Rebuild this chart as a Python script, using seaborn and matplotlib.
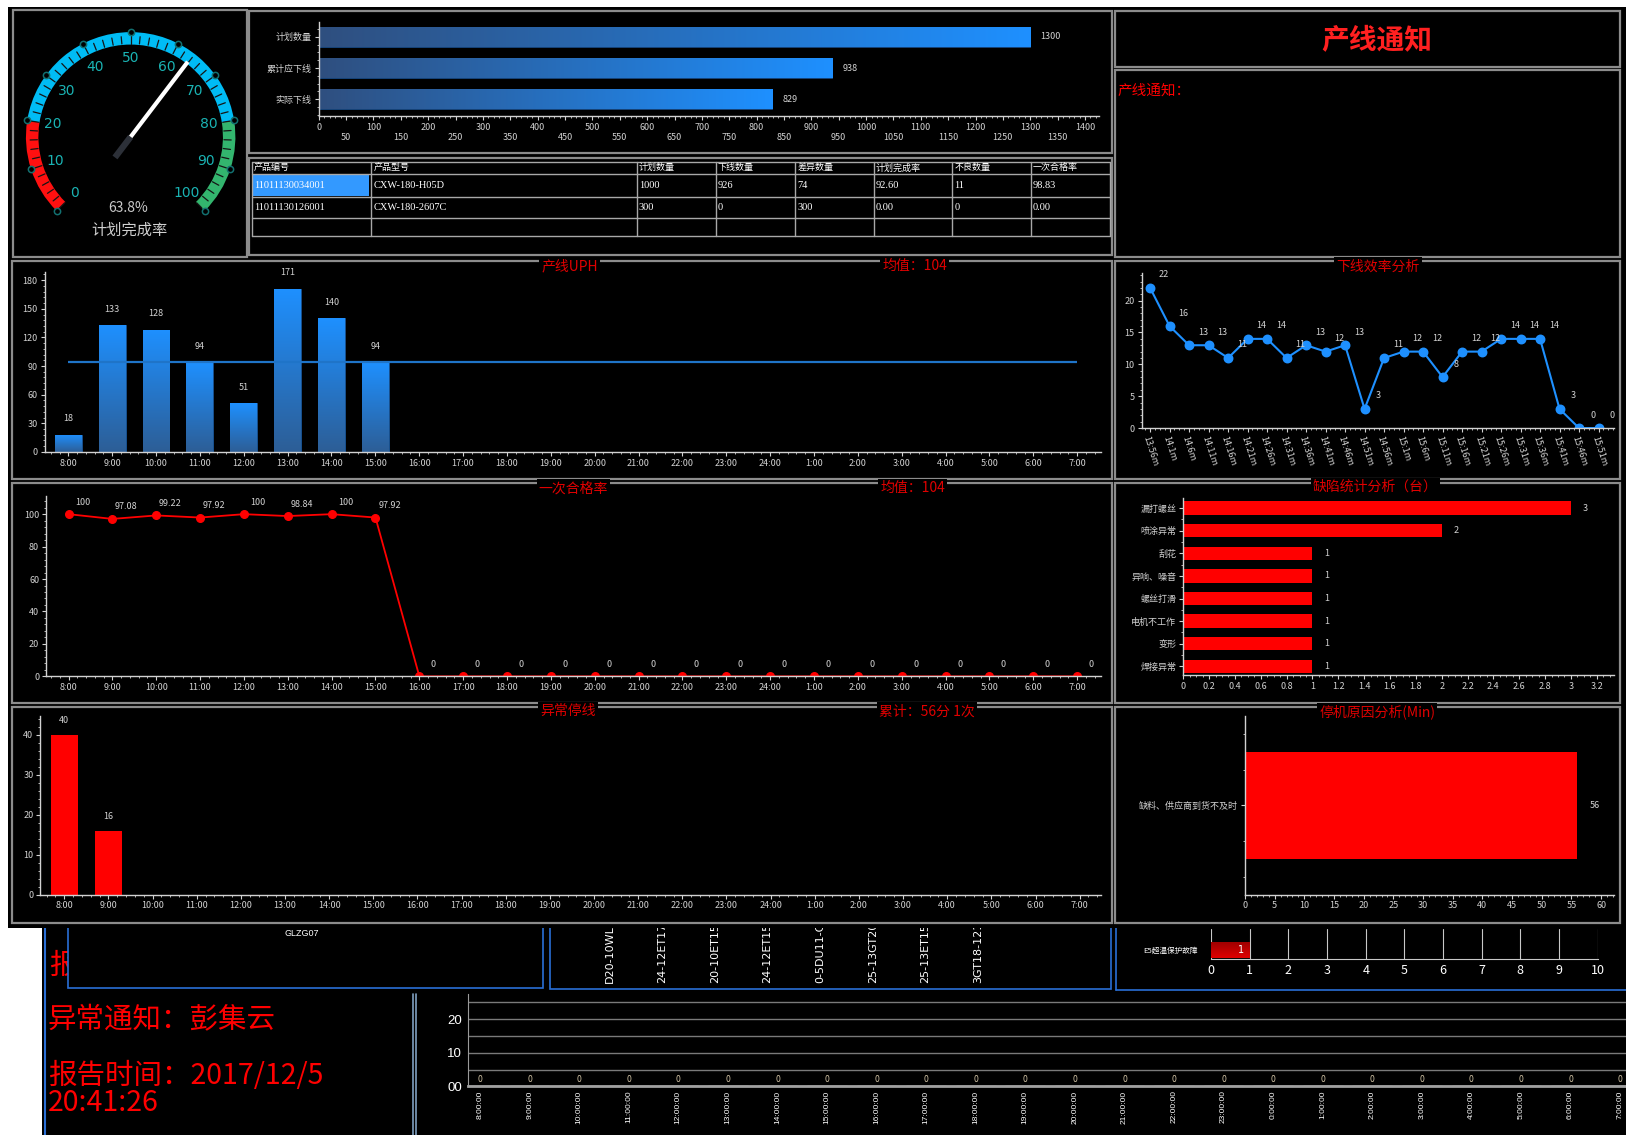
import numpy as np
import pandas as pd
import seaborn as sns
import matplotlib.pyplot as plt
from matplotlib.patches import Rectangle, Wedge
from matplotlib.colors import LinearSegmentedColormap
from matplotlib.ticker import MultipleLocator, FixedLocator

sns.set_style('ticks')
plt.rcParams['font.family'] = ['Noto Sans CJK SC', 'DejaVu Sans']
plt.rcParams['axes.unicode_minus'] = False

#%% dados

gauge_value = 63.8
gauge_edges = [0, 20, 80, 100]
gauge_colors = ['#ff1010', '#00bcf5', '#33b56e']
gauge_text = '63.8%'
gauge_title = '计划完成率'

plan_names = ['计划数量', '累计应下线', '实际下线']
plan_vals = [1300, 938, 829]

table_header = ['产品编号', '产品型号', '计划数量', '下线数量', '差异数量', '计划完成率', '不良数量', '一次合格率']
table_row1 = ['11011130034001', 'CXW-180-H05D', '1000', '926', '74', '92.60', '11', '98.83']
table_row2 = ['11011130126001', 'CXW-180-2607C', '300', '0', '300', '0.00', '0', '0.00']

hours = ['8:00', '9:00', '10:00', '11:00', '12:00', '13:00', '14:00', '15:00', '16:00', '17:00',
         '18:00', '19:00', '20:00', '21:00', '22:00', '23:00', '24:00', '1:00', '2:00', '3:00',
         '4:00', '5:00', '6:00', '7:00']
uph_vals = [18, 133, 128, 94, 51, 171, 140, 94, 0, 0, 0, 0, 0, 0, 0, 0, 0, 0, 0, 0, 0, 0, 0, 0]
uph_line = 94
uph_mean = '均值：104'

fpy_vals = [100, 97.08, 99.22, 97.92, 100, 98.84, 100, 97.92, 0, 0, 0, 0, 0, 0, 0, 0,
            0, 0, 0, 0, 0, 0, 0, 0]
fpy_mean = '均值：104'

eff_times = ['13:56m', '14:1m', '14:6m', '14:11m', '14:16m', '14:21m', '14:26m', '14:31m',
             '14:36m', '14:41m', '14:46m', '14:51m', '14:56m', '15:1m', '15:6m', '15:11m',
             '15:16m', '15:21m', '15:26m', '15:31m', '15:36m', '15:41m', '15:46m', '15:51m']
eff_vals = [22, 16, 13, 13, 11, 14, 14, 11, 13, 12, 13, 3, 11, 12, 12, 8, 12, 12, 14, 14, 14, 3, 0, 0]

defect_names = ['漏打螺丝', '喷涂异常', '刮花', '异响、噪音', '螺丝打滑', '电机不工作', '变形', '焊接异常']
defect_vals = [3, 2, 1, 1, 1, 1, 1, 1]

stop_vals = [40, 16, 0, 0, 0, 0, 0, 0, 0, 0, 0, 0, 0, 0, 0, 0, 0, 0, 0, 0, 0, 0, 0, 0]
stop_total = '累计：56分 1次'

reason_names = ['缺料、供应商到货不及时']
reason_mins = [56]

bottom_hours = ['8:00:00', '9:00:00', '10:00:00', '11:00:00', '12:00:00', '13:00:00', '14:00:00',
                '15:00:00', '16:00:00', '17:00:00', '18:00:00', '19:00:00', '20:00:00', '21:00:00',
                '22:00:00', '23:00:00', '0:00:00', '1:00:00', '2:00:00', '3:00:00', '4:00:00',
                '5:00:00', '6:00:00', '7:00:00']
bottom_vals = [0, 0, 0, 0, 0, 0, 0, 0, 0, 0, 0, 0, 0, 0, 0, 0, 0, 0, 0, 0, 0, 0, 0, 0]
bottom_ylabels = ['00', '10', '20']

fault_names = ['E5超温保护故障']
fault_counts = [1]

model_codes = ['D20-10WL', '24-12ET17', '20-10ET15', '24-12ET15', '0-5DU11-C', '25-13GT20', '25-13ET15', '3GT18-121']
line_code = 'GLZG07'
notice_person = '异常通知：彭集云'
notice_time1 = '报告时间：2017/12/5'
notice_time2 = '20:41:26'

#%% figura

W, H = 1568, 1095
fig = plt.figure(figsize=(16.26, 11.35), dpi=100, facecolor='white')

TXT = '#d2d2d2'
RED = '#e00000'
BORDER = '#8c8c8c'
BLUE_LINE = '#2a6fd6'


def add_ax(x0, y0, x1, y1):
    ax = fig.add_axes([x0 / W, 1 - y1 / H, (x1 - x0) / W, (y1 - y0) / H])
    ax.set_facecolor('none')
    return ax


def style(ax, xminor=None, yminor=None, size=6.5):
    for s in ['top', 'right']:
        ax.spines[s].set_visible(False)
    for s in ['left', 'bottom']:
        ax.spines[s].set_color(TXT)
        ax.spines[s].set_linewidth(1)
    ax.tick_params(colors=TXT, labelsize=size, length=3, width=0.8, pad=2)
    ax.tick_params(which='minor', colors=TXT, length=1.5, width=0.6)
    if xminor:
        ax.xaxis.set_minor_locator(MultipleLocator(xminor))
    if yminor:
        ax.yaxis.set_minor_locator(MultipleLocator(yminor))
    ax.set_xlabel('')
    ax.set_ylabel('')
    ax.grid(False)


def gradient(ax, c0, c1, horizontal):
    cmap = LinearSegmentedColormap.from_list('g', [c0, c1])
    ramp = np.linspace(0, 1, 256)
    ramp = ramp.reshape(1, -1) if horizontal else ramp.reshape(-1, 1)
    for p in list(ax.patches):
        w, h = p.get_width(), p.get_height()
        if w == 0 or h == 0:
            continue
        x0, y0 = p.get_x(), p.get_y()
        im = ax.imshow(ramp, extent=[x0, x0 + w, y0, y0 + h], origin='lower', aspect='auto',
                       cmap=cmap, zorder=p.get_zorder(), interpolation='bilinear')
        im.set_clip_path(p)
        p.set_facecolor('none')


# fundo em coordenadas de pixel
bg = add_ax(0, 0, W, H)
bg.set_xlim(0, W)
bg.set_ylim(H, 0)
bg.axis('off')

# parte de baixo (tela de tras)
bg.add_patch(Rectangle((40.6, 880), W - 40.6, H - 880, fc='black', ec='none', zorder=0))
bg.plot([43, 43], [893, H], color=BLUE_LINE, lw=1.5, zorder=1)
bg.text(47, 932, '报', color='#ff0000', fontsize=20.5, va='center', ha='left', zorder=1)
bg.add_patch(Rectangle((65.4, 870), 524 - 65.4, 953 - 870, fc='black', ec=BLUE_LINE, lw=1.2, zorder=1.5))
bg.text(291, 901, line_code, color='white', fontsize=6.5, ha='center', va='center', zorder=1.6,
        family='Liberation Sans')
bg.add_patch(Rectangle((530, 870), 1071 - 530, 953.7 - 870, fc='black', ec=BLUE_LINE, lw=1.2, zorder=1.5))
for i, code in enumerate(model_codes):
    bg.text(588 + 50.7 * i, 948, code, rotation=90, color='white', fontsize=8, ha='center', va='bottom',
            zorder=1.6, family='DejaVu Sans')
bg.plot([1076, 1076], [880, 955], color=BLUE_LINE, lw=1.2, zorder=1.5)
bg.plot([1076, W], [955, 955], color=BLUE_LINE, lw=1.2, zorder=1.5)
bg.plot([398, 398], [959, H], color='#7f9fc0', lw=1.2, zorder=1)
bg.plot([401, 401], [959, H], color='#7f9fc0', lw=1.2, zorder=1)
bg.text(46, 984, notice_person, color='#ff0000', fontsize=20.5, va='center', ha='left', zorder=1)
bg.text(46, 1038, notice_time1, color='#ff0000', fontsize=20.5, va='center', ha='left', zorder=1)
bg.text(46, 1064, notice_time2, color='#ff0000', fontsize=20.5, va='center', ha='left', zorder=1)

# painel principal
bg.add_patch(Rectangle((8, 7), W - 8, 895 - 7, fc='black', ec='none', zorder=2))
panels = [(13, 10, 238, 248), (240, 11, 1072, 148), (240, 152, 1072, 246),
          (1075, 11, 1562, 65), (1075, 68, 1562, 248),
          (12, 252, 1072, 462), (1075, 252, 1562, 462),
          (12, 466, 1072, 678), (1075, 466, 1562, 678),
          (12, 682, 1072, 890), (1075, 682, 1562, 890)]
for x0, y0, x1, y1 in panels:
    bg.add_patch(Rectangle((x0, y0), x1 - x0, y1 - y0, fc='none', ec=BORDER, lw=1.6, zorder=3))

titles = [(549, 257, '产线UPH'), (882, 257, uph_mean), (1329, 257, '下线效率分析'),
          (553, 471, '一次合格率'), (880, 471, fpy_mean), (1326, 470, '缺陷统计分析（台）'),
          (548, 686, '异常停线'), (894, 686, stop_total), (1328, 687, '停机原因分析(Min)')]
for x, y, t in titles:
    bg.text(x, y, t, color=RED, fontsize=10, ha='center', va='center', zorder=5,
            bbox=dict(fc='black', ec='none', pad=1.5))

bg.text(1328, 40, '产线通知', color='#ff2020', fontsize=20, fontweight='bold', ha='center', va='center', zorder=5)
bg.text(1078, 87, '产线通知：', color='#ff0000', fontsize=10.5, ha='left', va='center', zorder=5)

# tabela
cols_x = [242.7, 358.2, 614, 690, 767, 842.4, 918.5, 994, 1070]
rows_y = [156, 168, 189.7, 210, 227.6]
bg.add_patch(Rectangle((243.5, 168.5), 112, 20.5, fc='#3399ff', ec='none', zorder=4))
for x in cols_x:
    bg.plot([x, x], [rows_y[0], rows_y[-1]], color='#a8a8a8', lw=1, zorder=4)
for y in rows_y:
    bg.plot([cols_x[0], cols_x[-1]], [y, y], color='#a8a8a8', lw=1, zorder=4)
for j, t in enumerate(table_header):
    bg.text(cols_x[j] + 2, (rows_y[0] + rows_y[1]) / 2, t, color='white', fontsize=6.5,
            ha='left', va='center', zorder=5)
for r, row in enumerate([table_row1, table_row2]):
    for j, t in enumerate(row):
        bg.text(cols_x[j] + 2, (rows_y[r + 1] + rows_y[r + 2]) / 2, t, color='white', fontsize=7.5,
                ha='left', va='center', zorder=5, family='Liberation Serif')

#%% velocimetro

gx = add_ax(13, 10, 238, 248)
gx.set_xlim(13, 238)
gx.set_ylim(-248, -10)
gx.axis('off')
cx, cy, r_out, r_in = 126, -132, 101, 89


def ang(v):
    return 225 - 2.7 * v


for v0, v1, c in zip(gauge_edges[:-1], gauge_edges[1:], gauge_colors):
    gx.add_patch(Wedge((cx, cy), r_out, ang(v1), ang(v0), width=r_out - r_in, fc=c, ec='none'))
for v in np.arange(0, 101, 2):
    a = np.radians(ang(v))
    gx.plot([cx + (r_in + 1) * np.cos(a), cx + (r_in + 8) * np.cos(a)],
            [cy + (r_in + 1) * np.sin(a), cy + (r_in + 8) * np.sin(a)], color='#151515', lw=0.9)
for v in range(0, 101, 10):
    a = np.radians(ang(v))
    gx.plot(cx + r_out * np.cos(a), cy + r_out * np.sin(a), 'o', ms=4.5, mfc='black', mec='#127070', mew=1.1)
    gx.text(cx + 76 * np.cos(a), cy + 76 * np.sin(a), str(v), color='#1ab3b3', fontsize=10,
            ha='center', va='center', family='DejaVu Sans')
a = np.radians(ang(gauge_value))
gx.plot([cx - 25 * np.cos(a), cx], [cy - 25 * np.sin(a), cy], color='#2c3038', lw=4.5, solid_capstyle='butt')
gx.plot([cx, cx + 91 * np.cos(a)], [cy, cy + 91 * np.sin(a)], color='white', lw=3, solid_capstyle='butt')
gx.text(124, -201, gauge_text, color='#c8c8c8', fontsize=10, ha='center', va='center')
gx.text(125, -222, gauge_title, color='#d0d0d0', fontsize=11, ha='center', va='center')

#%% barras do plano

ax = add_ax(307.4, 20.9, 1060, 111.9)
sns.barplot(x=plan_vals, y=plan_names, orient='h', color='#1e90ff', saturation=1, width=0.63,
            edgecolor='#1a4f8f', linewidth=0.6, ax=ax)
gradient(ax, '#2f4f7f', '#1e90ff', True)
for i, v in enumerate(plan_vals):
    ax.annotate(str(v), (v, i), xytext=(10, 0), textcoords='offset pixels', va='center', ha='left',
                color=TXT, fontsize=6.5)
ax.set_xlim(0, 1426)
ax.set_ylim(2.54, -0.49)
ticks = np.arange(0, 1401, 50)
ax.set_xticks(ticks)
ax.set_xticklabels([f'{t}' if t % 100 == 0 else f'\n{t}' for t in ticks])
style(ax, xminor=10, yminor=0.25)

#%% UPH

ax = add_ax(43, 262, 1062, 436)
sns.barplot(x=hours, y=uph_vals, order=hours, color='#1e90ff', saturation=1, width=0.61,
            edgecolor='#1c5fa8', linewidth=0.6, ax=ax)
gradient(ax, '#2d5e96', '#1e90ff', False)
ax.hlines(uph_line, 0, len(hours) - 1, color='#1f74c8', lw=1.6, zorder=4)
for i, v in enumerate(uph_vals):
    if v:
        ax.annotate(str(v), (i, v), xytext=(0, 16), textcoords='offset pixels', ha='center', va='center',
                    color=TXT, fontsize=6.5)
ax.set_xlim(-0.54, 23.55)
ax.set_ylim(0, 189)
ax.set_yticks(range(0, 181, 30))
style(ax, xminor=0.2, yminor=6)

#%% eficiencia

ax = add_ax(1101, 263.6, 1556, 413)
sns.pointplot(x=eff_times, y=eff_vals, order=eff_times, color='#1e90ff', markers='o', markersize=6,
              linewidth=1.5, errorbar=None, ax=ax)
for i, v in enumerate(eff_vals):
    ax.annotate(str(v), (i, v), xytext=(14, 13), textcoords='offset pixels', ha='center', va='center',
                color=TXT, fontsize=6.5)
ax.set_xlim(-0.43, 23.77)
ax.set_ylim(0, 24.3)
ax.set_yticks(range(0, 21, 5))
style(ax, xminor=0.25, yminor=1)
plt.setp(ax.get_xticklabels(), rotation=-72, ha='left', va='top', rotation_mode='anchor')

#%% primeira passagem

ax = add_ax(44.5, 479, 1062, 652.5)
sns.pointplot(x=hours, y=fpy_vals, order=hours, color='#ff0000', markers='o', markersize=5.5,
              linewidth=1.3, errorbar=None, ax=ax)
for i, v in enumerate(fpy_vals):
    ax.annotate(f'{v:g}', (i, v), xytext=(14, 12), textcoords='offset pixels', ha='center', va='center',
                color=TXT, fontsize=6.5)
ax.set_xlim(-0.51, 23.55)
ax.set_ylim(0, 110.9)
ax.set_yticks(range(0, 101, 20))
style(ax, xminor=0.2, yminor=4)

#%% defeitos

ax = add_ax(1141, 480, 1556, 651.6)
sns.barplot(x=defect_vals, y=defect_names, orient='h', color='#ff0000', saturation=1, width=0.59,
            linewidth=0, ax=ax)
for i, v in enumerate(defect_vals):
    ax.annotate(str(v), (v, i), xytext=(12, 0), textcoords='offset pixels', ha='left', va='center',
                color=TXT, fontsize=6.5)
ax.set_xlim(0, 3.33)
ax.set_ylim(7.4, -0.47)
dt = np.round(np.arange(0, 3.21, 0.2), 1)
ax.set_xticks(dt)
ax.set_xticklabels([f'{t:g}' for t in dt])
style(ax, xminor=0.05, yminor=0.5)

#%% parada anormal

ax = add_ax(39, 691, 1062, 863)
sns.barplot(x=hours, y=stop_vals, order=hours, color='#ff0000', saturation=1, width=0.61,
            linewidth=0, ax=ax)
for i, v in enumerate(stop_vals):
    if v:
        ax.annotate(str(v), (i, v), xytext=(0, 14), textcoords='offset pixels', ha='center', va='center',
                    color=TXT, fontsize=6.5)
ax.set_xlim(-0.54, 23.49)
ax.set_ylim(0, 44.6)
ax.set_yticks(range(0, 41, 10))
style(ax, xminor=0.2, yminor=2)

#%% motivo da parada

ax = add_ax(1200.6, 691, 1556, 863)
sns.barplot(x=reason_mins, y=reason_names, orient='h', color='#ff0000', saturation=1, width=0.6,
            linewidth=0, ax=ax)
for i, v in enumerate(reason_mins):
    ax.annotate(str(v), (v, i), xytext=(12, 0), textcoords='offset pixels', ha='left', va='center',
                color=TXT, fontsize=6.5)
ax.set_xlim(0, 62.1)
ax.set_ylim(0.5, -0.5)
ax.set_xticks(range(0, 61, 5))
style(ax, xminor=1)
ax.yaxis.set_minor_locator(FixedLocator([-0.4, -0.2, 0.2, 0.4]))

#%% falhas (tela de tras)

ax = add_ax(1168, 896, 1540.6, 925)
sns.barplot(x=fault_counts, y=fault_names, orient='h', color='#cc0000', saturation=1, width=0.517,
            linewidth=0, ax=ax)
gradient(ax, '#a00000', '#e00000', False)
for i, v in enumerate(fault_counts):
    ax.annotate(str(v), (v, i), xytext=(-6, 0), textcoords='offset pixels', ha='right', va='center',
                color='white', fontsize=7, family='DejaVu Sans')
ax.set_xlim(0, 10)
ax.set_ylim(0.293, -0.707)
ax.set_xticks(range(0, 11))
ax.grid(axis='x', color='#c8c8c8', lw=0.8)
for s in ['top', 'right', 'left']:
    ax.spines[s].set_visible(False)
ax.spines['bottom'].set_color('#c8c8c8')
ax.tick_params(axis='x', colors='white', labelsize=9, length=0, pad=4)
ax.tick_params(axis='y', colors='white', labelsize=5.5, length=0, pad=10)
ax.set_xlabel('')
ax.set_ylabel('')

#%% grafico de baixo

ax = add_ax(451, 959, 1580, 1048)
sns.barplot(x=bottom_hours, y=bottom_vals, order=bottom_hours, color='#1e90ff', saturation=1, ax=ax)
for i, v in enumerate(bottom_vals):
    ax.annotate(str(v), (i, v), xytext=(0, 7), textcoords='offset pixels', ha='center', va='center',
                color='#e0d0b0', fontsize=5.5, family='DejaVu Sans')
ax.set_xlim(-0.25, 23.37)
ax.set_ylim(0, 27.5)
ax.set_yticks([0, 10, 20])
ax.set_yticklabels(bottom_ylabels)
ax.set_yticks([5, 15, 25], minor=True)
ax.grid(axis='y', which='both', color='#7a7a7a', lw=1)
for s in ['top', 'right']:
    ax.spines[s].set_visible(False)
ax.spines['left'].set_color('#9a9a9a')
ax.spines['bottom'].set_color('#a0a0a0')
ax.spines['bottom'].set_linewidth(2)
ax.tick_params(axis='y', which='both', colors='white', labelsize=9.5, length=0, pad=4)
ax.tick_params(axis='x', colors='white', labelsize=6, length=0, pad=3, rotation=90)
for lab in ax.get_xticklabels() + ax.get_yticklabels():
    lab.set_family('Liberation Sans')
ax.set_xlabel('')
ax.set_ylabel('')

fig.savefig('out.png', dpi=100, facecolor='white')
